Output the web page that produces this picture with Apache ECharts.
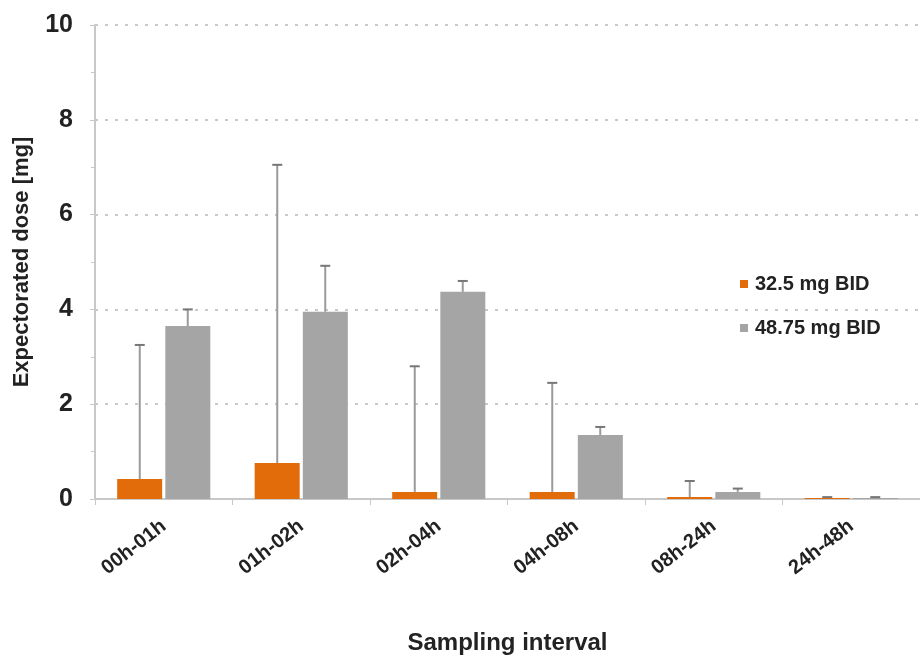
<!DOCTYPE html>
<html><head><meta charset="utf-8">
<script src="https://cdn.jsdelivr.net/npm/echarts@6/dist/echarts.min.js"></script>
<style>html,body{margin:0;padding:0;background:#fff}#c{width:920px;height:660px}</style>
</head><body><div id="c"></div>
<script>
const categories = ['00h-01h','01h-02h','02h-04h','04h-08h','08h-24h','24h-48h'];
const series1Name = '32.5 mg BID';
const series2Name = '48.75 mg BID';
const dose325 = [0.42, 0.76, 0.15, 0.15, 0.04, 0.02];
const err325Top = [3.25, 7.05, 2.8, 2.45, 0.38, 0.04];
const dose4875 = [3.65, 3.95, 4.37, 1.35, 0.15, 0.02];
const err4875Top = [4.0, 4.92, 4.6, 1.52, 0.22, 0.04];

const chart = echarts.init(document.getElementById('c'), null, {renderer:'canvas'});
const FONT = 'Liberation Sans, Arial, sans-serif';
const BW = 45;
function errSeries(name, topArr, valArr, offsetPx) {
  return {
    type: 'custom', name: name + ' err', z: 5, silent: true,
    data: topArr.map((t, i) => [i, valArr[i], t]),
    renderItem: function (params, api) {
      const base = api.coord([api.value(0), api.value(1)]);
      const top = api.coord([api.value(0), api.value(2)]);
      const x = base[0] + offsetPx;
      return {
        type: 'group',
        children: [
          {type:'line', shape:{x1:x, y1:base[1], x2:x, y2:top[1]}, style:{stroke:'#9a9a9a', lineWidth:2}},
          {type:'line', shape:{x1:x-5, y1:top[1], x2:x+5, y2:top[1]}, style:{stroke:'#777', lineWidth:2}}
        ]
      };
    }
  };
}
chart.setOption({
  animation: false,
  grid: {left: 95, top: 25, width: 837, height: 476, containLabel: false},
  legend: {
    orient: 'vertical', left: 735, top: 269, itemGap: 24,
    itemWidth: 8, itemHeight: 8, icon: 'rect',
    data: [series1Name, series2Name],
    textStyle: {fontFamily: FONT, fontSize: 20, fontWeight: 'bold', color: '#222', padding: [0,0,0,2]}
  },
  xAxis: {
    type: 'category', data: categories,
    name: 'Sampling interval', nameLocation: 'middle', nameGap: 132,
    nameTextStyle: {fontFamily: FONT, fontSize: 24, fontWeight: 'bold', color: '#222'},
    axisLine: {lineStyle: {color: '#c8c8c8', width: 2}},
    axisTick: {show: true, length: 6, lineStyle: {color: '#c8c8c8'}},
    axisLabel: {rotate: 38, fontFamily: FONT, fontSize: 20, fontWeight: 'bold', color: '#222', margin: 25}
  },
  yAxis: {
    type: 'value', min: 0, max: 10, interval: 2,
    name: 'Expectorated dose [mg]', nameLocation: 'middle', nameGap: 62, nameRotate: 90,
    nameTextStyle: {fontFamily: FONT, fontSize: 22, fontWeight: 'bold', color: '#222'},
    axisLine: {show: true, lineStyle: {color: '#c8c8c8', width: 2}},
    axisTick: {show: true, length: 5, lineStyle: {color: '#c8c8c8'}},
    minorTick: {show: true, splitNumber: 2, length: 4, lineStyle: {color: '#c8c8c8'}},
    axisLabel: {fontFamily: FONT, fontSize: 25, fontWeight: 'bold', color: '#222', margin: 22},
    splitLine: {show: true, lineStyle: {color: '#b8b8b8', type: [3, 7], width: 1.5}}
  },
  series: [
    {name: series1Name, type: 'bar', data: dose325, barWidth: BW, barGap: '7%',
     itemStyle: {color: '#e36c0a'}},
    {name: series2Name, type: 'bar', data: dose4875, barWidth: BW, barGap: '7%',
     itemStyle: {color: '#a5a5a5'}},
    errSeries(series1Name, err325Top, dose325, -24),
    errSeries(series2Name, err4875Top, dose4875, 24)
  ]
});
</script></body></html>
